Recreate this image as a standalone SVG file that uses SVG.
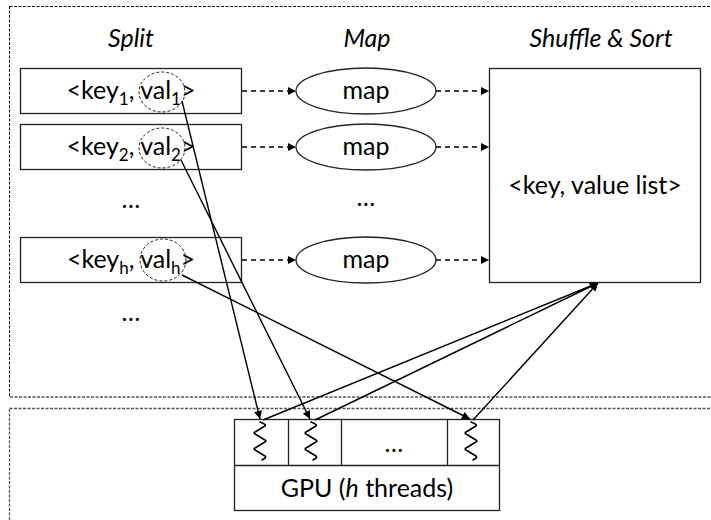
<svg xmlns="http://www.w3.org/2000/svg" width="711" height="520" viewBox="0 0 711 520">
  <style>
    text { font-family: Lato, "Liberation Sans", sans-serif; fill: #000; }
    .t { font-size: 25px; text-anchor: middle; }
    .hd { font-size: 25px; font-style: italic; text-anchor: middle; }
    .sub { font-size: 17px; }
    .frame { fill: none; stroke: #000; stroke-width: 1; stroke-dasharray: 3 1.5; }
    .frame2 { fill: none; stroke: #555; stroke-width: 1.3; stroke-dasharray: 3 1.5; }
    .box { fill: #fff; stroke: #222; stroke-width: 1.3; }
    .val { fill: none; stroke: #222; stroke-width: 1; stroke-dasharray: 3 2; }
    .flow { fill: none; stroke: #000; stroke-width: 1.3; stroke-dasharray: 5 4; }
    .link { fill: none; stroke: #000; stroke-width: 1.4; }
    .wave { fill: none; stroke: #000; stroke-width: 1.6; stroke-linejoin: round; stroke-linecap: round; }
  </style>
  <defs>
    <marker id="tri" viewBox="0 0 10 10" refX="10" refY="5" markerWidth="10" markerHeight="8" markerUnits="userSpaceOnUse" orient="auto">
      <path d="M0,0 L10,5 L0,10 z" fill="#000"/>
    </marker>
    <!-- thread glyph: a wavy vertical stroke -->
    <path id="thread" class="wave" d="M0,0 Q8,3 4,4.5 L-4,9.5 Q-8,11 -4,12.5 L4,17.5 Q8,19 4,20.5 L-4,25.5 Q-8,27 -4,28.5 L4,33.5 Q8,35 2,38"/>
  </defs>

  <!-- stage frames -->
  <rect class="frame" x="9.5" y="6.5" width="720" height="390.5"/>
  <rect class="frame2" x="9.5" y="408.5" width="720" height="130"/>

  <!-- column headings -->
  <text class="hd" x="131" y="47">Split</text>
  <text class="hd" x="367" y="47">Map</text>
  <text class="hd" x="601" y="47">Shuffle &amp; Sort</text>

  <!-- split records -->
  <g id="split1">
    <rect class="box" x="20.5" y="68.5" width="221" height="45"/>
    <text class="t" x="131" y="99">&lt;key<tspan class="sub" dy="6">1</tspan><tspan dy="-6">, val</tspan><tspan class="sub" dy="6">1</tspan><tspan dy="-6">&gt;</tspan></text>
    <ellipse class="val" cx="162" cy="92" rx="23" ry="20"/>
  </g>
  <g id="split2">
    <rect class="box" x="20.5" y="124.5" width="221" height="45"/>
    <text class="t" x="131" y="155">&lt;key<tspan class="sub" dy="6">2</tspan><tspan dy="-6">, val</tspan><tspan class="sub" dy="6">2</tspan><tspan dy="-6">&gt;</tspan></text>
    <ellipse class="val" cx="162" cy="148" rx="23" ry="20"/>
  </g>
  <g id="split-dots1"><text class="t" x="131" y="208">…</text></g>
  <g id="splith">
    <rect class="box" x="20.5" y="237.5" width="221" height="45"/>
    <text class="t" x="131" y="268">&lt;key<tspan class="sub" dy="6">h</tspan><tspan dy="-6">, val</tspan><tspan class="sub" dy="6">h</tspan><tspan dy="-6">&gt;</tspan></text>
    <ellipse class="val" cx="163" cy="260" rx="23" ry="21"/>
  </g>
  <g id="split-dots2"><text class="t" x="131" y="321">…</text></g>

  <!-- map tasks -->
  <g id="map1">
    <ellipse class="box" cx="366" cy="91" rx="70" ry="23"/>
    <text class="t" x="366" y="99">map</text>
  </g>
  <g id="map2">
    <ellipse class="box" cx="366" cy="147" rx="70" ry="23"/>
    <text class="t" x="366" y="155">map</text>
  </g>
  <g id="map-dots"><text class="t" x="366" y="206">…</text></g>
  <g id="maph">
    <ellipse class="box" cx="366" cy="260" rx="70" ry="23"/>
    <text class="t" x="366" y="268">map</text>
  </g>

  <!-- shuffle & sort -->
  <g id="shuffle">
    <rect class="box" x="489.5" y="68.5" width="211" height="214"/>
    <text class="t" x="595" y="194">&lt;key, value list&gt;</text>
  </g>

  <!-- GPU threads -->
  <g id="gpu">
    <rect class="box" x="234.5" y="419.5" width="265" height="91"/>
    <line x1="234.5" y1="465.5" x2="499.5" y2="465.5" stroke="#222" stroke-width="1.3"/>
    <line x1="288.5" y1="419.5" x2="288.5" y2="465.5" stroke="#222" stroke-width="1.3"/>
    <line x1="341.5" y1="419.5" x2="341.5" y2="465.5" stroke="#222" stroke-width="1.3"/>
    <line x1="447.5" y1="419.5" x2="447.5" y2="465.5" stroke="#222" stroke-width="1.3"/>
    <use href="#thread" x="260" y="422"/>
    <use href="#thread" x="311" y="422"/>
    <use href="#thread" x="471" y="422"/>
    <text class="t" x="394" y="452">…</text>
    <text class="t" x="367" y="497">GPU (<tspan font-style="italic">h</tspan> threads)</text>
  </g>

  <!-- connectors -->
  <g id="connectors">
    <line class="flow" x1="242" y1="91" x2="296" y2="91" marker-end="url(#tri)"/>
    <line class="flow" x1="242" y1="147" x2="296" y2="147" marker-end="url(#tri)"/>
    <line class="flow" x1="242" y1="260" x2="296" y2="260" marker-end="url(#tri)"/>
    <line class="flow" x1="436" y1="91" x2="489" y2="91" marker-end="url(#tri)"/>
    <line class="flow" x1="436" y1="147" x2="489" y2="147" marker-end="url(#tri)"/>
    <line class="flow" x1="436" y1="260" x2="489" y2="260" marker-end="url(#tri)"/>

    <line class="link" x1="182" y1="101" x2="260" y2="419" marker-end="url(#tri)"/>
    <line class="link" x1="181" y1="160" x2="310" y2="419" marker-end="url(#tri)"/>
    <line class="link" x1="182" y1="275" x2="470" y2="419" marker-end="url(#tri)"/>

    <line class="link" x1="263" y1="420" x2="598" y2="283" marker-end="url(#tri)"/>
    <line class="link" x1="315" y1="420" x2="598" y2="283" marker-end="url(#tri)"/>
    <line class="link" x1="473" y1="420" x2="598" y2="283" marker-end="url(#tri)"/>
  </g>
</svg>
